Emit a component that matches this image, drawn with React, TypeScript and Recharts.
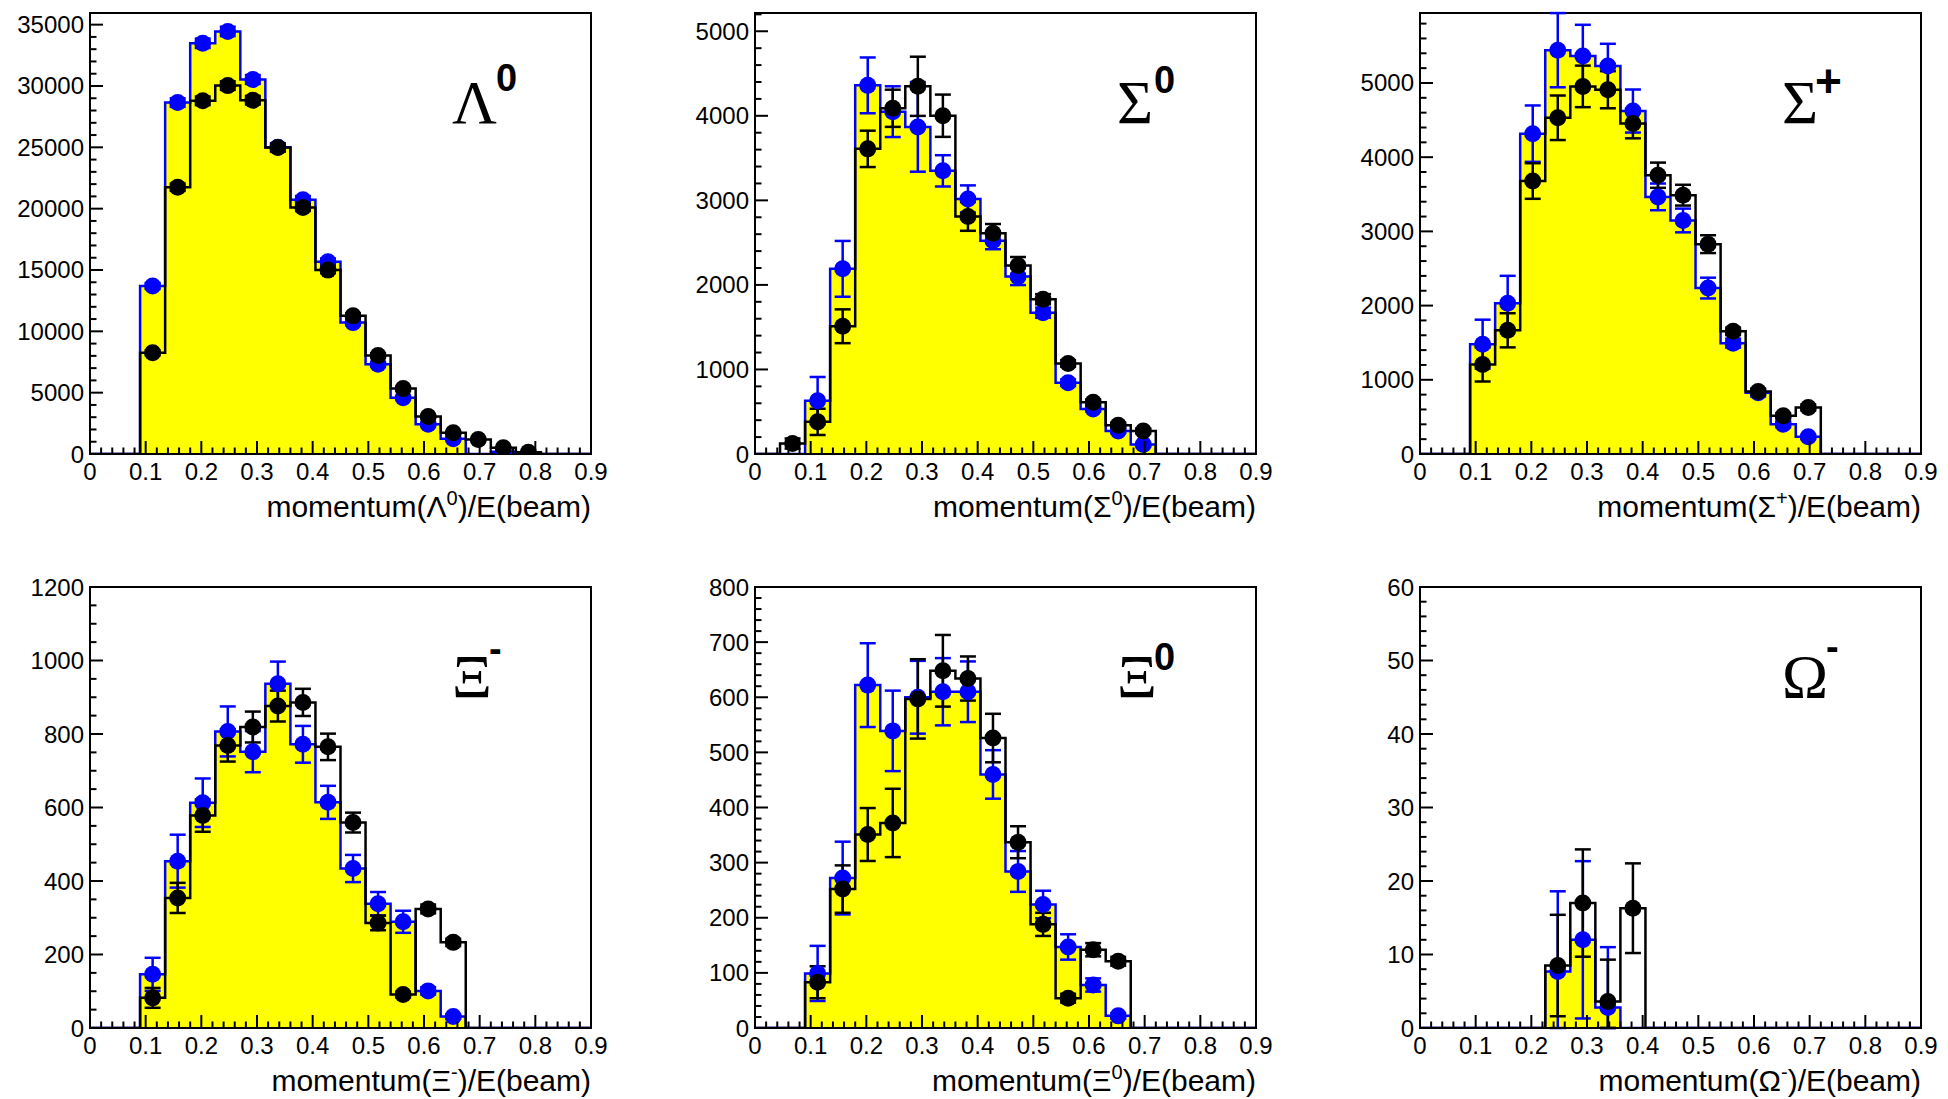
import React from "react";
import { Area, ComposedChart, ErrorBar, Line, ReferenceArea, Scatter, XAxis, YAxis } from "recharts";

// 20 bins of width 0.045 over 0..0.9
const binEdges = [0, 0.045, 0.09, 0.135, 0.18, 0.225, 0.27, 0.315, 0.36, 0.405, 0.45, 0.495, 0.54, 0.585, 0.63, 0.675, 0.72, 0.765, 0.81, 0.855, 0.9];
const binCenters = [0.0225, 0.0675, 0.1125, 0.1575, 0.2025, 0.2475, 0.2925, 0.3375, 0.3825, 0.4275, 0.4725, 0.5175, 0.5625, 0.6075, 0.6525, 0.6975, 0.7425, 0.7875, 0.8325, 0.8775];

type Err = number | [number, number];

// Lambda0
const lambdaBlue = [0, 0, 13700, 28650, 33480, 34450, 30530, 25000, 20730, 15680, 10710, 7310, 4580, 2430, 1240, 0, 180, 0, 0, 0];
const lambdaBlueErr: Err[] = [0, 0, 250, 350, 380, 380, 360, 330, 300, 260, 210, 180, 140, 100, 70, 0, 30, 0, 0, 0];
const lambdaBlack = [0, 0, 8250, 21750, 28790, 30030, 28840, 24980, 20090, 14990, 11260, 8030, 5330, 3060, 1740, 1190, 500, 140, 0, 0];
const lambdaBlackErr: Err[] = [0, 0, 200, 300, 350, 350, 350, 320, 280, 250, 210, 180, 150, 110, 90, 70, 50, 30, 0, 0];

// Sigma0
const sigma0Blue = [0, 0, 631, 2190, 4360, 4049, 3869, 3349, 3017, 2522, 2098, 1671, 843, 532, 272, 112, 0, 0, 0, 0];
const sigma0BlueErr: Err[] = [0, 0, 280, 330, 330, 300, 530, 185, 160, 100, 100, 60, 40, 30, 25, 20, 0, 0, 0, 0];
const sigma0Black = [0, 124, 380, 1511, 3609, 4089, 4349, 4001, 2810, 2610, 2230, 1831, 1071, 611, 340, 272, 0, 0, 0, 0];
const sigma0BlackErr: Err[] = [0, 60, 155, 200, 215, 220, 350, 250, 170, 110, 100, 60, 40, 35, 30, 30, 0, 0, 0, 0];

// Sigma+
const sigmaPBlue = [0, 0, 1480, 2031, 4317, 5442, 5364, 5228, 4622, 3465, 3147, 2236, 1494, 824, 401, 232, 0, 0, 0, 0];
const sigmaPBlueErr: Err[] = [0, 0, 330, 370, 380, 500, 420, 300, 290, 180, 160, 140, 60, 50, 40, 30, 0, 0, 0, 0];
const sigmaPBlack = [0, 0, 1207, 1667, 3679, 4531, 4954, 4909, 4454, 3757, 3488, 2828, 1653, 842, 515, 628, 0, 0, 0, 0];
const sigmaPBlackErr: Err[] = [0, 0, 230, 230, 240, 300, 280, 250, 200, 170, 140, 120, 50, 40, 35, 40, 0, 0, 0, 0];

// Xi-
const xiMBlue = [0, 0, 146, 454, 613, 807, 752, 937, 772, 614, 434, 338, 289, 101, 31, 0, 0, 0, 0, 0];
const xiMBlueErr: Err[] = [0, 0, 45, 72, 66, 68, 56, 60, 50, 45, 37, 32, 30, 10, 6, 0, 0, 0, 0, 0];
const xiMBlack = [0, 0, 82, 354, 578, 769, 819, 876, 886, 765, 559, 286, 91, 324, 233, 0, 0, 0, 0, 0];
const xiMBlackErr: Err[] = [0, 0, 27, 41, 44, 44, 42, 42, 37, 36, 27, 20, 8, 12, 10, 0, 0, 0, 0, 0];

// Xi0
const xi0Blue = [0, 0, 99, 272, 622, 539, 600, 610, 610, 460, 284, 224, 147, 78, 22, 0, 0, 0, 0, 0];
const xi0BlueErr: Err[] = [0, 0, 50, 66, 76, 73, 66, 61, 55, 44, 37, 25, 23, 12, 5, 0, 0, 0, 0, 0];
const xi0Black = [0, 0, 83, 252, 351, 372, 597, 648, 634, 526, 337, 188, 54, 142, 121, 0, 0, 0, 0, 0];
const xi0BlackErr: Err[] = [0, 0, 29, 43, 48, 62, 72, 65, 40, 44, 29, 21, 8, 12, 8, 0, 0, 0, 0, 0];

// Omega-
const omegaBlue = [0, 0, 0, 0, 0, 7.7, 12, 2.8, 0, 0, 0, 0, 0, 0, 0, 0, 0, 0, 0, 0];
const omegaBlueErr: Err[] = [0, 0, 0, 0, 0, [7.7, 10.9], [10.7, 10.7], [2.8, 8.2], 0, 0, 0, 0, 0, 0, 0, 0, 0, 0, 0, 0];
const omegaBlack = [0, 0, 0, 0, 0, 8.5, 17, 3.6, 16.3, 0, 0, 0, 0, 0, 0, 0, 0, 0, 0, 0];
const omegaBlackErr: Err[] = [0, 0, 0, 0, 0, 6.9, 7.3, [3.6, 5.7], 6.1, 0, 0, 0, 0, 0, 0, 0, 0, 0, 0, 0];

const YELLOW = "#ffff00";
const BLUE = "#0000ff";
const SANS = "'Liberation Sans', Arial, Helvetica, sans-serif";
const SERIF = "'Liberation Serif', 'Times New Roman', serif";

const PLOT_W = 501;
const PLOT_H = 441;
const Y_AXIS_W = 90;
const TOP_M = 25;
const TICK_FONT = 24;

const xTicks = Array.from({ length: 46 }, (_, k) => Math.round(k * 2) / 100);

const panels = [
  { left: 90, top: 13, ymax: 35950, minor: 1000, major: 5000, blue: lambdaBlue, blueErr: lambdaBlueErr, black: lambdaBlack, blackErr: lambdaBlackErr, sym: "Λ", sup: "0", supX: 406, supY: 78, supSize: 38 },
  { left: 755, top: 13, ymax: 5216, minor: 200, major: 1000, blue: sigma0Blue, blueErr: sigma0BlueErr, black: sigma0Black, blackErr: sigma0BlackErr, sym: "Σ", sup: "0", supX: 399, supY: 80, supSize: 38 },
  { left: 1420, top: 13, ymax: 5943, minor: 200, major: 1000, blue: sigmaPBlue, blueErr: sigmaPBlueErr, black: sigmaPBlack, blackErr: sigmaPBlackErr, sym: "Σ", sup: "+", supX: 395, supY: 84, supSize: 46 },
  { left: 90, top: 587, ymax: 1200, minor: 50, major: 200, blue: xiMBlue, blueErr: xiMBlueErr, black: xiMBlack, blackErr: xiMBlackErr, sym: "Ξ", sup: "-", supX: 399, supY: 75, supSize: 38 },
  { left: 755, top: 587, ymax: 800, minor: 20, major: 100, blue: xi0Blue, blueErr: xi0BlueErr, black: xi0Black, blackErr: xi0BlackErr, sym: "Ξ", sup: "0", supX: 399, supY: 83, supSize: 38 },
  { left: 1420, top: 587, ymax: 60, minor: 2, major: 10, blue: omegaBlue, blueErr: omegaBlueErr, black: omegaBlack, blackErr: omegaBlackErr, sym: "Ω", sup: "-", supX: 406, supY: 73, supSize: 38 },
];

const XTick = (props: any) => {
  const { x, y, payload } = props;
  const k = Math.round(payload.value / 0.02);
  const major = k % 5 === 0;
  return (
    <g>
      <line x1={x} y1={y} x2={x} y2={y - (major ? 13 : 6.5)} stroke="#000" strokeWidth={2} />
      {major && (
        <text x={x} y={y + 17} textAnchor="middle" dominantBaseline="central" fontSize={TICK_FONT} fontFamily={SANS} fill="#000">
          {k === 0 ? "0" : (k * 0.02).toFixed(1)}
        </text>
      )}
    </g>
  );
};

const makeYTick = (major: number) => (props: any) => {
  const { x, y, payload } = props;
  const v = payload.value;
  const isMajor = Math.abs(v / major - Math.round(v / major)) < 1e-6;
  return (
    <g>
      <line x1={x} y1={y} x2={x + (isMajor ? 13 : 6.5)} y2={y} stroke="#000" strokeWidth={2} />
      {isMajor && (
        <text x={x - 6} y={y} textAnchor="end" dominantBaseline="central" fontSize={TICK_FONT} fontFamily={SANS} fill="#000">
          {v}
        </text>
      )}
    </g>
  );
};

const dot = (color: string) => (p: any) => <circle cx={p.cx} cy={p.cy} r={8.5} fill={color} />;

function Panel({ p }: { p: (typeof panels)[number] }) {
  const rows = binEdges.map((x, i) => ({
    x,
    blue: p.blue[Math.min(i, p.blue.length - 1)],
    black: p.black[Math.min(i, p.black.length - 1)],
  }));
  const bluePts = binCenters.map((x, i) => ({ x, y: p.blue[i], err: p.blueErr[i] })).filter((d) => d.y > 0);
  const blackPts = binCenters.map((x, i) => ({ x, y: p.black[i], err: p.blackErr[i] })).filter((d) => d.y > 0);
  const yTicks = Array.from({ length: Math.floor(p.ymax / p.minor + 1e-9) + 1 }, (_, k) => k * p.minor);

  return (
    <div style={{ position: "absolute", left: p.left - Y_AXIS_W, top: p.top - TOP_M }}>
      <ComposedChart
        width={Y_AXIS_W + PLOT_W + 20}
        height={TOP_M + PLOT_H + 80}
        data={rows}
        margin={{ top: TOP_M, right: 20, bottom: 0, left: 0 }}
      >
        <XAxis
          type="number"
          dataKey="x"
          domain={[0, 0.9]}
          allowDataOverflow
          ticks={xTicks}
          interval={0}
          tickSize={0}
          tickMargin={0}
          tickLine={false}
          tick={XTick}
          height={80}
          axisLine={{ stroke: "#000", strokeWidth: 2 }}
        />
        <YAxis
          type="number"
          domain={[0, p.ymax]}
          allowDataOverflow
          ticks={yTicks}
          interval={0}
          tickSize={0}
          tickMargin={0}
          tickLine={false}
          tick={makeYTick(p.major)}
          width={Y_AXIS_W}
          axisLine={{ stroke: "#000", strokeWidth: 2 }}
        />
        <Area
          type="stepAfter"
          dataKey="blue"
          fill={YELLOW}
          fillOpacity={1}
          stroke={BLUE}
          strokeWidth={2.5}
          dot={false}
          activeDot={false}
          isAnimationActive={false}
        />
        <Line
          type="stepAfter"
          dataKey="black"
          stroke="#000"
          strokeWidth={2.5}
          dot={false}
          activeDot={false}
          isAnimationActive={false}
        />
        <Scatter data={bluePts} dataKey="y" fill={BLUE} shape={dot(BLUE)} isAnimationActive={false}>
          <ErrorBar dataKey="err" direction="y" width={8} stroke={BLUE} strokeWidth={2.5} />
        </Scatter>
        <Scatter data={blackPts} dataKey="y" fill="#000" shape={dot("#000")} isAnimationActive={false}>
          <ErrorBar dataKey="err" direction="y" width={8} stroke="#000" strokeWidth={2.5} />
        </Scatter>
        <ReferenceArea x1={0} x2={0.9} y1={0} y2={p.ymax} fill="none" fillOpacity={0} stroke="#000" strokeWidth={2} ifOverflow="visible" />
      </ComposedChart>
    </div>
  );
}

export default function App() {
  return (
    <div style={{ position: "absolute", left: 0, top: 0, width: 1948, height: 1099, background: "#fff", overflow: "hidden" }}>
      {panels.map((p, i) => (
        <Panel key={i} p={p} />
      ))}
      <svg width={1948} height={1099} style={{ position: "absolute", left: 0, top: 0, pointerEvents: "none" }}>
        {panels.map((p, i) => (
          <g key={i}>
            <text x={p.left + 362} y={p.top + 110} fontFamily={SERIF} fontSize={62} fill="#000">
              {p.sym}
            </text>
            <text x={p.left + p.supX} y={p.top + p.supY} fontFamily={SANS} fontWeight="bold" fontSize={p.supSize} fill="#000">
              {p.sup}
            </text>
            <text x={p.left + PLOT_W} y={p.top + PLOT_H + 63} textAnchor="end" fontFamily={SANS} fontSize={30} fill="#000">
              momentum({p.sym}
              <tspan dy={-12} fontSize={20}>
                {p.sup}
              </tspan>
              <tspan dy={12}>)/E(beam)</tspan>
            </text>
          </g>
        ))}
      </svg>
    </div>
  );
}
